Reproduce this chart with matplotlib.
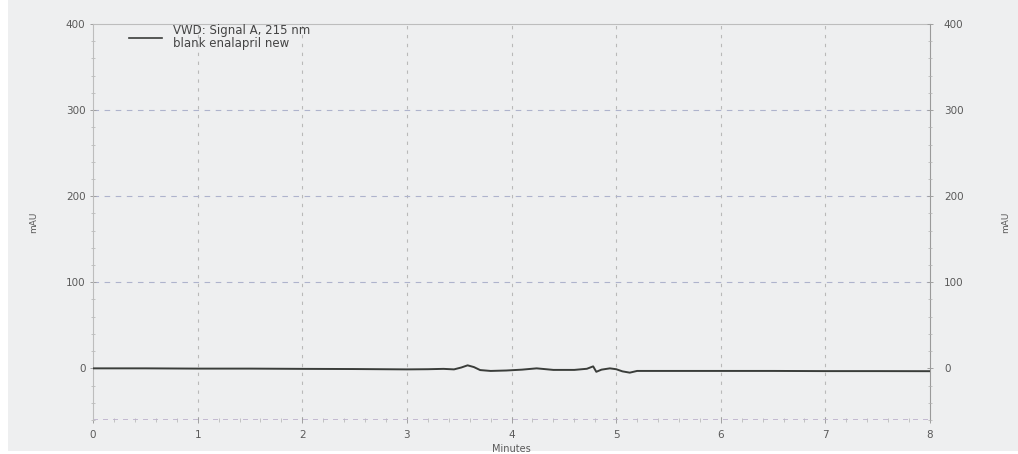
import matplotlib
matplotlib.use("Agg")
import matplotlib.pyplot as plt
from matplotlib.patches import Rectangle
from matplotlib.ticker import MultipleLocator

# chromatogram trace, VWD signal A at 215 nm (minutes, mAU)
minutes = [0.0, 0.5, 1.0, 1.5, 2.0, 2.5, 3.0, 3.2, 3.35, 3.45, 3.52, 3.58, 3.64,
           3.7, 3.8, 3.95, 4.1, 4.24, 4.4, 4.6, 4.72, 4.78, 4.81, 4.86, 4.94,
           5.0, 5.06, 5.13, 5.2, 5.3, 5.6, 6.0, 6.5, 7.0, 7.5, 8.0]
signal = [0.0, 0.0, -0.3, -0.3, -0.6, -0.8, -1.2, -1.0, -0.6, -1.2, 1.0, 3.5, 1.5,
          -2.0, -3.0, -2.5, -1.5, 0.0, -1.8, -1.8, -0.5, 2.3, -4.0, -1.5, 0.0,
          -1.0, -3.5, -5.0, -3.0, -3.0, -3.0, -3.0, -3.0, -3.2, -3.2, -3.3]

x_ticks = [0, 1, 2, 3, 4, 5, 6, 7, 8]
y_ticks = [0, 100, 200, 300, 400]
legend_lines = ["VWD: Signal A, 215 nm", "blank enalapril new"]

plt.rcParams['font.family'] = ['DejaVu Sans']
grey_txt = '#5a5a5a'

fig = plt.figure(figsize=(10.18, 4.54), dpi=100, facecolor='white')
fig.patches.append(Rectangle((0.008, 0.006), 0.992, 0.994, transform=fig.transFigure,
                             facecolor='#eeeff0', edgecolor='none', zorder=-10))

ax = fig.add_axes([0.0914, 0.0749, 0.8222, 0.8721])
ax.set_facecolor('#eeeff0')
ax.plot(minutes, signal, color='#3a3d3a', lw=1.4, zorder=3)

ax.set_xlim(0, 8)
ax.set_ylim(-60, 400)
ax.set_xticks(x_ticks)
ax.set_yticks(y_ticks)
ax.xaxis.set_minor_locator(MultipleLocator(0.2))
ax.yaxis.set_minor_locator(MultipleLocator(20))

# grid: vertical grey dashes, horizontal bluish dashes
for xv in x_ticks[1:-1]:
    ax.axvline(xv, color='#b9b9b9', lw=0.8, ls=(0, (3, 5)), zorder=1)
for yv in [100, 200, 300]:
    ax.axhline(yv, color='#aeb3cc', lw=0.8, ls=(0, (5, 5)), zorder=1)
ax.axhline(-60, color='#bcb0cc', lw=1.2, ls=(0, (3, 3)), zorder=2)

for side in ['left', 'right', 'top', 'bottom']:
    ax.spines[side].set_color('#bdbdbd')
    ax.spines[side].set_linewidth(0.8)
ax.spines['bottom'].set_visible(False)
ax.spines['right'].set_color('#9a9a9a')

ax.tick_params(axis='both', which='major', length=4, width=0.7, color='#a0a0a0',
               labelsize=7.5, labelcolor=grey_txt, direction='inout')
ax.tick_params(axis='both', which='minor', length=3, width=0.5, color='#b0b0b0',
               direction='inout')
ax.tick_params(axis='x', pad=5)
ax.set_xlabel('Minutes', fontsize=7, color=grey_txt, labelpad=3)
ax.set_ylabel('mAU', fontsize=6.5, color=grey_txt, labelpad=20)

ax2 = ax.twinx()
ax2.set_ylim(ax.get_ylim())
ax2.set_yticks(y_ticks)
ax2.yaxis.set_minor_locator(MultipleLocator(20))
ax2.tick_params(axis='y', which='major', length=4, width=0.7, color='#a0a0a0',
                labelsize=7.5, labelcolor=grey_txt, direction='inout', pad=8)
ax2.tick_params(axis='y', which='minor', length=3, width=0.5, color='#b0b0b0',
                direction='inout')
for s in ax2.spines.values():
    s.set_visible(False)
ax2.set_ylabel('mAU', fontsize=6.5, color=grey_txt, labelpad=27)

# legend entry drawn by hand in axes space
ax.plot([0.34, 0.66], [384, 384], color='#3a3d3a', lw=1.2, zorder=3)
ax.text(0.76, 392, legend_lines[0], fontsize=8.5, color='#444444', va='center')
ax.text(0.76, 377.5, legend_lines[1], fontsize=8.5, color='#444444', va='center')

fig.savefig('out.png', dpi=100, facecolor=fig.get_facecolor())
